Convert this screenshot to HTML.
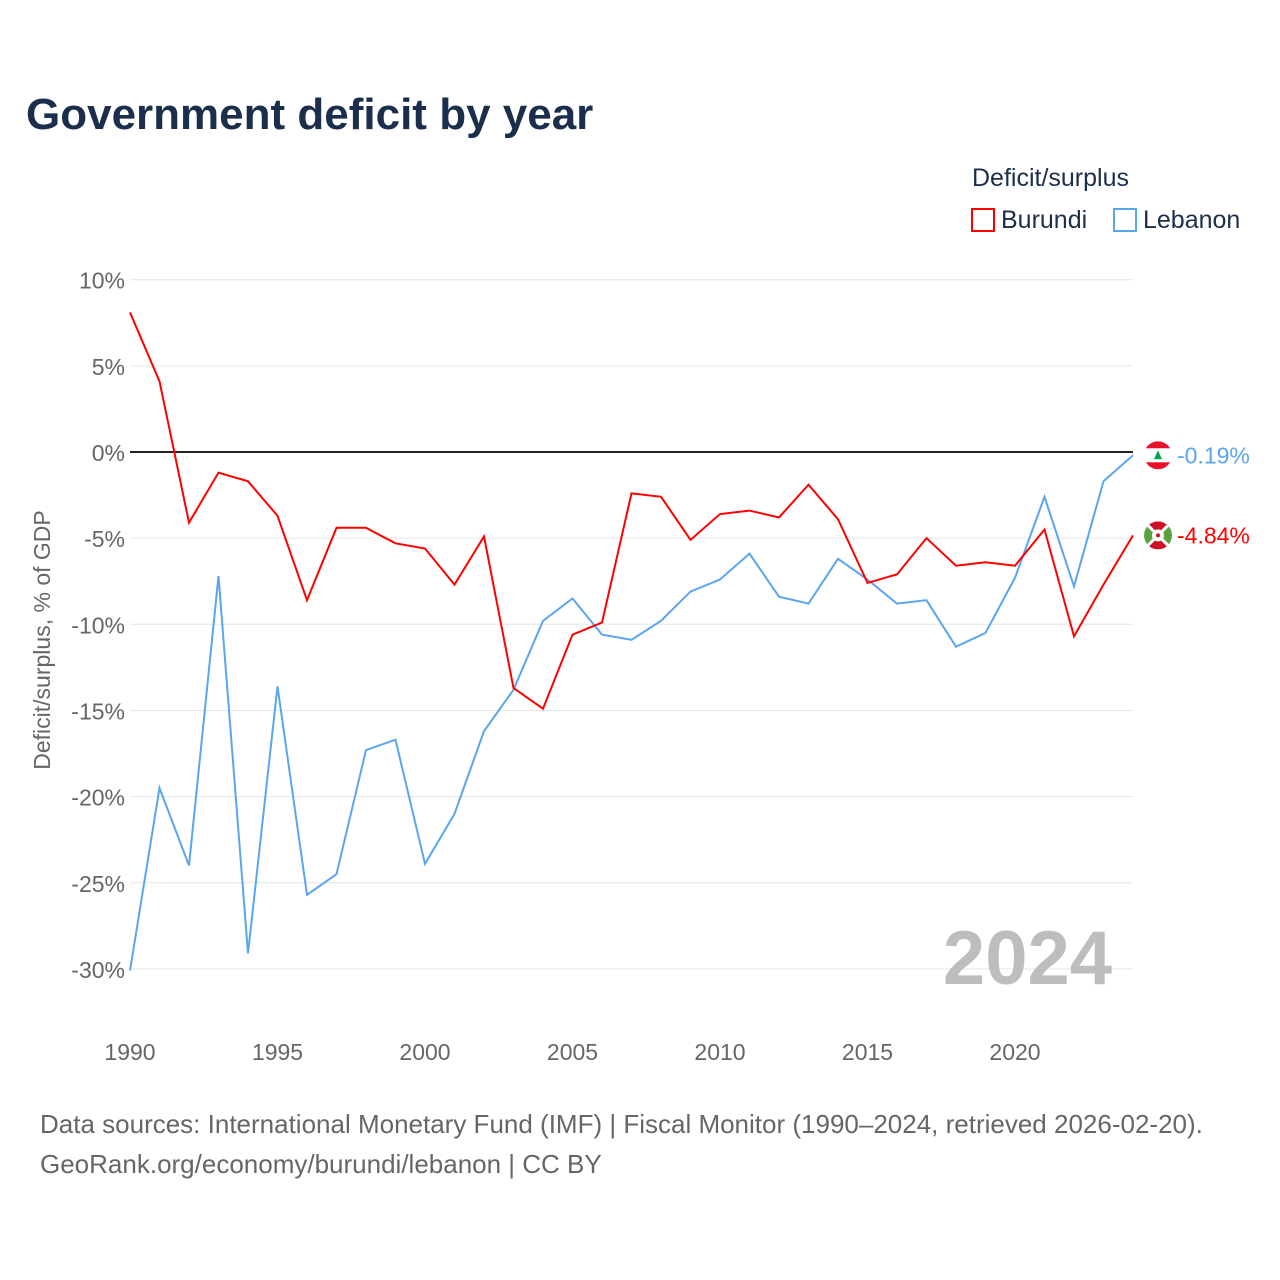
<!DOCTYPE html>
<html><head><meta charset="utf-8">
<style>
body{margin:0;background:#fff;font-family:"Liberation Sans",sans-serif;}
#wrap{position:relative;width:1280px;height:1280px;overflow:hidden;}
.t{position:absolute;white-space:nowrap;}
</style></head>
<body>
<div id="wrap">
<div class="t" style="left:26px;top:90px;font-size:44px;font-weight:bold;color:#1b2e4b;">Government deficit by year</div>
<div class="t" style="left:972px;top:164px;font-size:25px;color:#1b2e4b;">Deficit/surplus</div>
<div class="t" style="left:971px;top:206px;font-size:25px;color:#1b2e4b;"><span style="display:inline-block;width:24px;height:24px;border:2px solid #ff0000;vertical-align:-4px;margin-right:6px;box-sizing:border-box;"></span>Burundi</div>
<div class="t" style="left:1113px;top:206px;font-size:25px;color:#1b2e4b;"><span style="display:inline-block;width:24px;height:24px;border:2px solid #5aa5ee;vertical-align:-4px;margin-right:6px;box-sizing:border-box;"></span>Lebanon</div>
<svg id="chart" width="1280" height="1280" style="position:absolute;left:0;top:0;"></svg>
<div class="t" style="left:40px;top:1104px;font-size:26px;color:#666;line-height:40px;">Data sources: International Monetary Fund (IMF) | Fiscal Monitor (1990–2024, retrieved 2026-02-20).<br>GeoRank.org/economy/burundi/lebanon | CC BY</div>
</div>
<script>
const years=[];for(let y=1990;y<=2024;y++)years.push(y);
const burundi=[8.1,4.1,-4.1,-1.2,-1.7,-3.7,-8.6,-4.4,-4.4,-5.3,-5.6,-7.7,-4.9,-13.7,-14.9,-10.6,-9.9,-2.4,-2.6,-5.1,-3.6,-3.4,-3.8,-1.9,-3.9,-7.6,-7.1,-5.0,-6.6,-6.4,-6.6,-4.5,-10.7,-7.7,-4.84];
const lebanon=[-30.1,-19.5,-24.0,-7.2,-29.1,-13.6,-25.7,-24.5,-17.3,-16.7,-23.9,-21.0,-16.2,-13.8,-9.8,-8.5,-10.6,-10.9,-9.8,-8.1,-7.4,-5.9,-8.4,-8.8,-6.2,-7.4,-8.8,-8.6,-11.3,-10.5,-7.3,-2.6,-7.8,-1.7,-0.19];
const yTicks=[10,5,0,-5,-10,-15,-20,-25,-30];
const xTicks=[1990,1995,2000,2005,2010,2015,2020];
const NS="http://www.w3.org/2000/svg";
const svg=document.getElementById('chart');
const X=y=>130+(y-1990)*(1133-130)/34;
const Y=v=>452-v*17.23;
function el(t,a,p){const e=document.createElementNS(NS,t);for(const k in a)e.setAttribute(k,a[k]);(p||svg).appendChild(e);return e;}
const defs=el('defs',{});
yTicks.forEach(v=>{
 const g=el('line',{x1:130,x2:1133,y1:Y(v),y2:Y(v),stroke:v===0?'#222':'#e6e6e6','stroke-width':v===0?2:1});
 
 
 const t=el('text',{x:125,y:Y(v)+9,'text-anchor':'end','font-size':23,fill:'#666','font-family':'Liberation Sans, sans-serif'});
 t.textContent=v+'%';
 
 
});
xTicks.forEach(y=>{
 const t=el('text',{x:X(y),y:1060,'text-anchor':'middle','font-size':23,fill:'#666','font-family':'Liberation Sans, sans-serif'});
 t.textContent=y;
 
 
});
const yt=el('text',{x:0,y:0,transform:'translate(50,640) rotate(-90)','text-anchor':'middle','font-size':23,fill:'#666','font-family':'Liberation Sans, sans-serif'});
yt.textContent='Deficit/surplus, % of GDP';


const yr=el('text',{x:1112,y:984,'text-anchor':'end','font-size':76,'font-weight':'bold',fill:'#bdbdbd','font-family':'Liberation Sans, sans-serif'});
yr.textContent='2024';


function series(vals,color,name){
 const p=el('polyline',{points:vals.map((v,i)=>X(years[i])+','+Y(v)).join(' '),fill:'none',stroke:color,'stroke-width':2});
 
 
 const last=vals[vals.length-1],ly=Y(last);
 const cp=el('clipPath',{id:'clip-'+name},defs);
 el('circle',{cx:1158,cy:ly,r:14},cp);
 const g=el('g',{'clip-path':'url(#clip-'+name+')'});
 
 
 el('rect',{x:1144,y:ly-14,width:28,height:28,fill:'#fff'},g);
 if(name==='lebanon'){
  el('rect',{x:1144,y:ly-14,width:28,height:7,fill:'#e8112d'},g);
  el('rect',{x:1144,y:ly+7,width:28,height:7,fill:'#e8112d'},g);
  el('path',{d:`M1158 ${ly-5} L1162 ${ly+4} L1154 ${ly+4}Z`,fill:'#00a651'},g);
 } else {
  el('path',{d:`M1144 ${ly-14} L1158 ${ly} L1144 ${ly+14}Z M1172 ${ly-14} L1158 ${ly} L1172 ${ly+14}Z`,fill:'#5ba141'},g);
  el('path',{d:`M1144 ${ly-14} L1172 ${ly-14} L1158 ${ly}Z M1144 ${ly+14} L1172 ${ly+14} L1158 ${ly}Z`,fill:'#ce1126'},g);
  el('line',{x1:1144,y1:ly-14,x2:1172,y2:ly+14,stroke:'#fff','stroke-width':3},g);
  el('line',{x1:1172,y1:ly-14,x2:1144,y2:ly+14,stroke:'#fff','stroke-width':3},g);
  el('circle',{cx:1158,cy:ly,r:6,fill:'#fff'},g);
  el('circle',{cx:1158,cy:ly,r:2,fill:'#ce1126'},g);
 }
 const t=el('text',{x:1177,y:ly+8,'font-size':23,fill:color,'font-family':'Liberation Sans, sans-serif'});
 t.textContent=last.toFixed(2)+'%';
 
 
}
series(lebanon,'#5aa5ee','lebanon');
series(burundi,'#ff0000','burundi');
</script>
</body></html>
